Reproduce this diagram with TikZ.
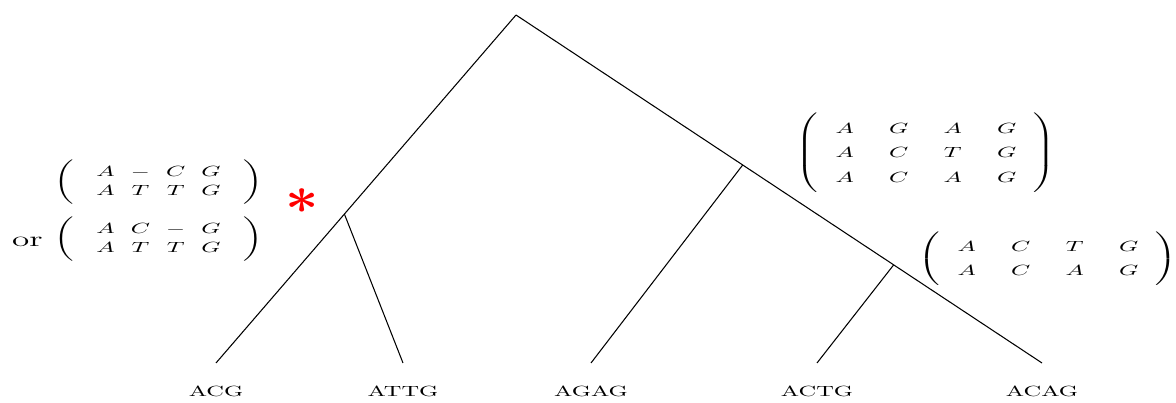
\documentclass[tikz,border=0pt]{standalone}
\usepackage{amsmath}
\usetikzlibrary{calc}
\delimitershortfall=-2pt

\begin{document}
\begin{tikzpicture}[
    line width=0.6pt,
    seqlabel/.style={inner sep=0pt, xscale=1.39, yscale=0.84},
    seqmat/.style={inner sep=0pt, xscale=1.39, yscale=0.84},
    mutation/.style={text=red, inner sep=0pt, xscale=3.3, yscale=3.0}]
    \useasboundingbox (0,0) rectangle (23.52,8.06);

    % Raiz e folhas
    \coordinate (root) at (10.32,7.76);
    \foreach \name/\x in {acg/4.32, attg/8.06, agag/11.82, actg/16.34, acag/20.84}
        \coordinate (\name) at (\x,0.8);

    % Nos internos
    \coordinate (nleft) at ($(root)!0.572!(acg)$);
    \coordinate (nmid) at ($(root)!0.431!(acag)$);
    \coordinate (nright) at ($(root)!0.718!(acag)$);

    % Ramos
    \draw (root) -- (acg);
    \draw (root) -- (acag);
    \draw (nleft) -- (attg);
    \draw (nmid) -- (agag);
    \draw (nright) -- (actg);

    % Sequencias
    \foreach \name/\seq in {acg/ACG, attg/ATTG, agag/AGAG, actg/ACTG, acag/ACAG}
        \node[seqlabel] (\name-lbl) at ($(\name)+(0,-0.56)$) {\seq};

    % Alinhamentos
    \node[seqmat] (alignA) at (3.17,4.42)
        {$\renewcommand{\arraystretch}{1.05}\arraycolsep=3.3pt
        \left(\hspace{6pt}\begin{array}{cccc} A & - & C & G\\ A & T & T & G \end{array}\hspace{6pt}\right)$};
    \node[seqmat] (alignB) at (3.17,3.28)
        {$\renewcommand{\arraystretch}{1.05}\arraycolsep=3.3pt
        \left(\hspace{6pt}\begin{array}{cccc} A & C & - & G\\ A & T & T & G \end{array}\hspace{6pt}\right)$};
    \node[seqlabel, font=\Large] (orlbl) at (0.55,3.23) {or};
    \node[seqmat] (alignC) at (18.52,5.0)
        {$\renewcommand{\arraystretch}{1.41}\arraycolsep=7.2pt
        \left(\begin{array}{cccc} A & G & A & G\\ A & C & T & G\\ A & C & A & G \end{array}\right)$};
    \node[seqmat] (alignD) at (20.96,2.89)
        {$\renewcommand{\arraystretch}{1.41}\arraycolsep=7.2pt
        \left(\begin{array}{cccc} A & C & T & G\\ A & C & A & G \end{array}\right)$};

    % Mutacao
    \node[mutation] (mut) at (6.04,4.04) {$\boldsymbol{\ast}$};
\end{tikzpicture}
\end{document}
